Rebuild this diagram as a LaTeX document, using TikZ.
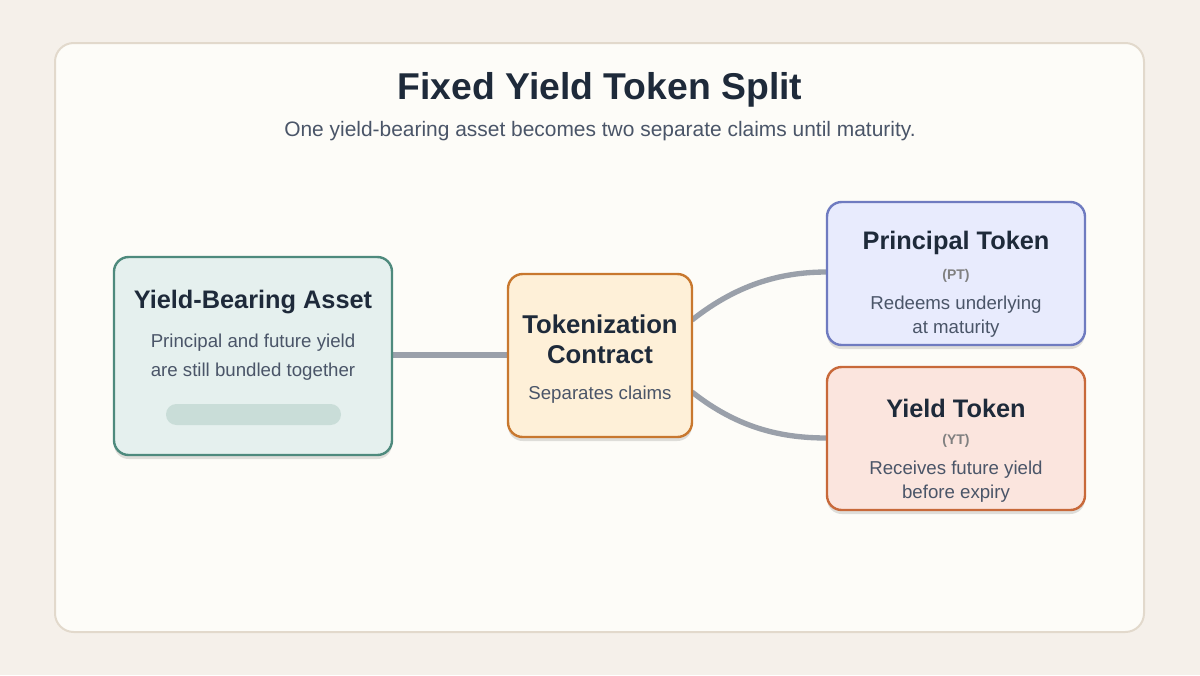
\documentclass[tikz,border=0pt]{standalone}
\usepackage{fontspec}
\setmainfont{Liberation Sans}
\usetikzlibrary{shadows}
\definecolor{bg}{HTML}{F5F0EA}
\definecolor{card}{HTML}{FDFCF8}
\definecolor{cardb}{HTML}{E2D9CC}
\definecolor{ink}{HTML}{1E2A3A}
\definecolor{sub}{HTML}{4A5568}
\definecolor{conn}{HTML}{9AA0AA}
\definecolor{gF}{HTML}{E5F0EE}\definecolor{gB}{HTML}{4E8A7D}\definecolor{gP}{HTML}{C9DDD8}
\definecolor{oF}{HTML}{FEF0D8}\definecolor{oB}{HTML}{C8782F}
\definecolor{bF}{HTML}{E8EBFD}\definecolor{bB}{HTML}{6F7BC0}
\definecolor{rF}{HTML}{FBE5DE}\definecolor{rB}{HTML}{C8693A}
\begin{document}
\begin{tikzpicture}[x=0.75pt,y=-0.75pt,
 box/.style={draw, line width=1.8pt, rounded corners=11pt, drop shadow={shadow xshift=0pt,shadow yshift=-3pt,opacity=0.12,fill=black}},
 ttl/.style={font=\bfseries\fontsize{19}{23}\selectfont, text=ink},
 bod/.style={font=\fontsize{14}{17}\selectfont, text=sub},
 tag/.style={font=\bfseries\fontsize{10.5}{12}\selectfont, text=gray},
 conn/.style={draw=conn, line width=4pt}]
\fill[bg] (0,0) rectangle (1200,675);
\draw[fill=card, draw=cardb, line width=1.5pt, rounded corners=14pt] (55,43) rectangle (1144,632);
\node[font=\bfseries\fontsize{28}{33}\selectfont, text=ink] (title) at (600,90) {Fixed Yield Token Split};
\node[font=\fontsize{15.7}{19}\selectfont, text=sub] (subt) at (600,131) {One yield-bearing asset becomes two separate claims until maturity.};
% connectors (behind boxes)
\coordinate (a1) at (392,355); \coordinate (b1) at (508,355);
\coordinate (m1) at (692,320); \coordinate (p1) at (827,272);
\coordinate (m2) at (692,392); \coordinate (y1) at (827,438);
\draw[conn] (a1) -- (b1);
\draw[conn] (m1) .. controls (740,282) and (785,272) .. (p1);
\draw[conn] (m2) .. controls (740,430) and (785,438) .. (y1);
% boxes
\draw[box, fill=gF, draw=gB] (114,257) rectangle (392,455);
\node[ttl] (at) at (253,302) {Yield-Bearing Asset};
\node[bod] (ab1) at (253,343) {Principal and future yield};
\node[bod] (ab2) at (253,372) {are still bundled together};
\fill[gP, rounded corners=7.8pt] (166,404) rectangle (341,425);
\draw[box, fill=oF, draw=oB] (508,274) rectangle (692,437);
\node[ttl, font=\bfseries\fontsize{19.3}{23}\selectfont] (mt1) at (600,324) {Tokenization};
\node[ttl, font=\bfseries\fontsize{19.3}{23}\selectfont] (mt2) at (600,355) {Contract};
\node[bod] (mb) at (600,395) {Separates claims};
\draw[box, fill=bF, draw=bB] (827,202) rectangle (1085,345);
\node[ttl] (pt) at (956,243) {Principal Token};
\node[tag] (ptt) at (956,276) {(PT)};
\node[bod] (pb1) at (956,305) {Redeems underlying};
\node[bod] (pb2) at (956,329) {at maturity};
\draw[box, fill=rF, draw=rB] (827,367) rectangle (1085,510);
\node[ttl] (yt) at (956,408) {Yield Token};
\node[tag] (ytt) at (956,441) {(YT)};
\node[bod] (yb1) at (956,470) {Receives future yield};
\node[bod] (yb2) at (956,494) {before expiry};
\end{tikzpicture}
\end{document}
